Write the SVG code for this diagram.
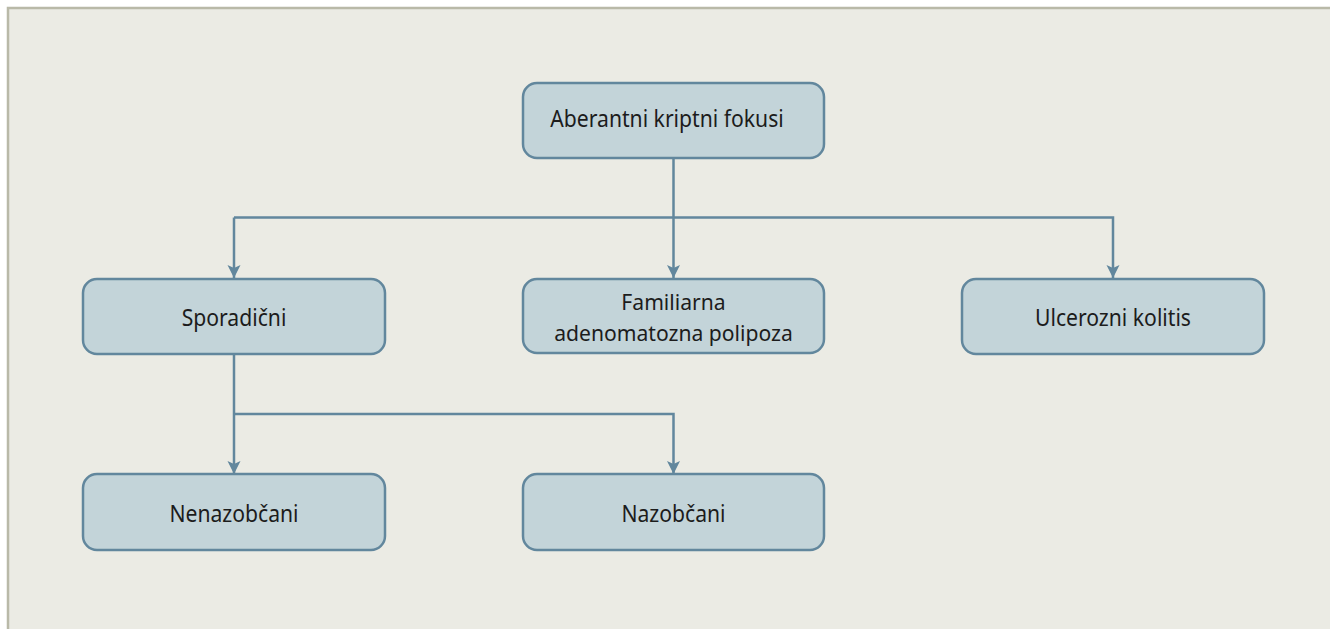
<svg xmlns="http://www.w3.org/2000/svg" width="1330" height="629" viewBox="0 0 1330 629">
<style>
.box{fill:#c3d4d9;stroke:#62879d;stroke-width:2.5}
.lbl{font-family:"Noto Sans","Open Sans",sans-serif;font-size:23.5px;fill:#1c1c1c;text-anchor:middle}
.sm{font-size:22px}
.con{fill:none;stroke:#62879d;stroke-width:2.5}
</style>
<defs>
<marker id="down" markerUnits="userSpaceOnUse" markerWidth="14" markerHeight="14" viewBox="0 0 14 14" refX="13" refY="7" orient="auto">
<path d="M0,0.5 L3,7 L0,13.5 L13,7 Z" fill="#62879d"/>
</marker>
</defs>
<rect x="0" y="0" width="1330" height="629" fill="#ffffff"/>
<rect x="8" y="8" width="1340" height="640" fill="#ebebe4" stroke="#b9b9a8" stroke-width="2.5"/>
<g id="connectors">
<path class="con" d="M673.5,158 V217.5"/>
<path class="con" d="M234,217.5 H1113 V278" marker-end="url(#down)"/>
<path class="con" d="M234,217.5 V278" marker-end="url(#down)"/>
<path class="con" d="M673.5,217.5 V278" marker-end="url(#down)"/>
<path class="con" d="M234,354 V474" marker-end="url(#down)"/>
<path class="con" d="M234,414 H673.5 V474" marker-end="url(#down)"/>
</g>
<g id="n-aberantni">
<rect class="box" x="523" y="83" width="301" height="75" rx="14"/>
<text class="lbl" transform="translate(667,127) scale(0.9,1)">Aberantni kriptni fokusi</text>
</g>
<g id="n-sporadicni">
<rect class="box" x="83" y="279" width="302" height="75" rx="14"/>
<text class="lbl" transform="translate(234,326) scale(0.9,1)">Sporadični</text>
</g>
<g id="n-familiarna">
<rect class="box" x="523" y="279" width="301" height="74" rx="14"/>
<text class="lbl sm" transform="translate(673.5,310) scale(0.96,1)">Familiarna</text>
<text class="lbl sm" transform="translate(673.5,340.5) scale(0.96,1)">adenomatozna polipoza</text>
</g>
<g id="n-ulcerozni">
<rect class="box" x="962" y="279" width="302" height="75" rx="14"/>
<text class="lbl" transform="translate(1113,326) scale(0.9,1)">Ulcerozni kolitis</text>
</g>
<g id="n-nenazobcani">
<rect class="box" x="83" y="474" width="302" height="76" rx="14"/>
<text class="lbl" transform="translate(234,522) scale(0.9,1)">Nenazobčani</text>
</g>
<g id="n-nazobcani">
<rect class="box" x="523" y="474" width="301" height="76" rx="14"/>
<text class="lbl" transform="translate(673.5,522) scale(0.9,1)">Nazobčani</text>
</g>
</svg>
